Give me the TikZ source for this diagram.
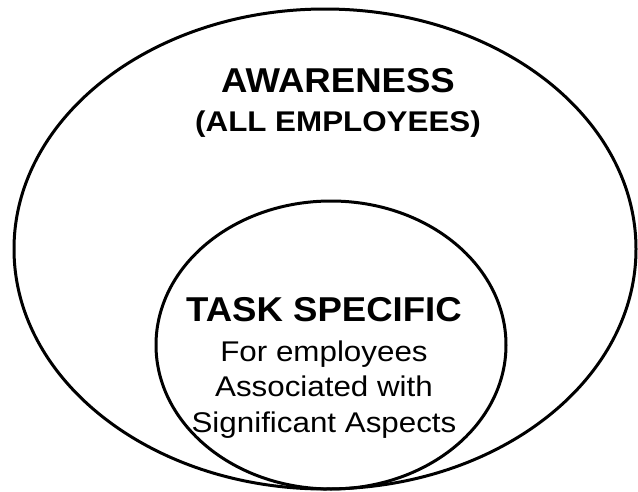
\documentclass[tikz,border=0pt]{standalone}
\usepackage{fontspec}
\usepackage{graphicx}
\setmainfont{Liberation Sans}
\usetikzlibrary{shapes.geometric}
\newcommand{\wide}[2]{\scalebox{#1}[1]{#2}}
\begin{document}
\begin{tikzpicture}[x=1pt,y=-1pt,
  ring/.style={draw=black,line width=3pt,ellipse,inner sep=0pt},
  lbl/.style={inner sep=0pt,anchor=base},
  big/.style={lbl,font=\bfseries\fontsize{34.5}{40}\selectfont},
  mid/.style={lbl,font=\bfseries\fontsize{28.5}{34}\selectfont},
  body/.style={lbl,font=\fontsize{28.5}{34}\selectfont}]
\useasboundingbox (0,0) rectangle (638,491);
\node[ring,minimum width=622pt,minimum height=480pt] (outer) at (325,249) {};
\node[ring,minimum width=350pt,minimum height=288pt] (inner) at (331,345) {};
\node[big] (aw) at (338,92.5) {\wide{1.06}{AWARENESS}};
\node[mid] (all) at (338,131) {\wide{1.1}{(ALL EMPLOYEES)}};
\node[big] (task) at (324,321.5) {\wide{1.06}{TASK SPECIFIC}};
\node[body] (l1) at (324,361) {\wide{1.1}{For employees}};
\node[body] (l2) at (324,396.5) {\wide{1.1}{Associated with}};
\node[body] (l3) at (324,432) {\wide{1.1}{Significant Aspects}};
\end{tikzpicture}
\end{document}
